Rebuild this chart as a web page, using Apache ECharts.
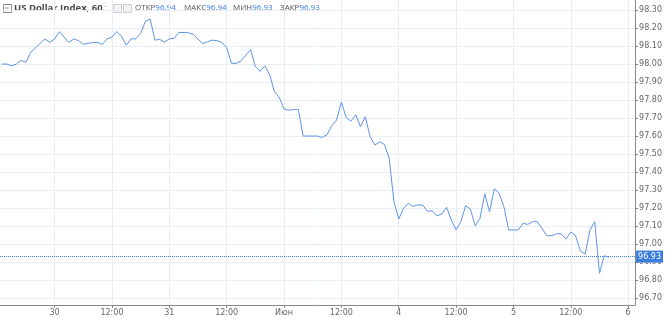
<!DOCTYPE html>
<html>
<head>
<meta charset="utf-8">
<script src="https://cdn.jsdelivr.net/npm/echarts@6/dist/echarts.min.js"></script>
<style>html,body{margin:0;padding:0;background:#fff}#c{width:665px;height:318px}</style>
</head>
<body>
<div id="c"></div>
<script>
// hours relative to 30 May 00:00 (trading-hour index)
var hours = [-11,-10,-9,-8,-7,-6,-5,-3,-2,-1,0,1,2,3,4,5,6,7,8,9,10,11,12,13,14,15,16,17,18,19,20,21,22,23,24,25,26,28,29,31,32,33,34,35,36,37,38,39,41,42,43,44,45,46,47,48,49,50,51,52,55,56,57,58,59,60,61,62,63,64,65,66,67,68,69,70,71,72,73,74,75,76,77,78,79,80,81,82,83,84,85,86,87,88,89,90,91,92,93,94,95,97,98,99,100,101,103,104,105,106,107,108,109,110,111,112,113,114,115,116];
var prices = [98.00,98.00,97.99,98.00,98.02,98.01,98.065,98.115,98.14,98.12,98.14,98.18,98.15,98.12,98.14,98.13,98.11,98.115,98.12,98.12,98.11,98.14,98.15,98.18,98.155,98.105,98.14,98.14,98.17,98.237,98.25,98.133,98.137,98.122,98.14,98.143,98.176,98.174,98.165,98.113,98.124,98.133,98.13,98.12,98.093,98.004,98.004,98.018,98.08,97.985,97.96,97.99,97.94,97.846,97.815,97.75,97.743,97.748,97.748,97.60,97.60,97.592,97.608,97.658,97.689,97.789,97.703,97.683,97.718,97.652,97.707,97.598,97.55,97.568,97.553,97.476,97.235,97.139,97.198,97.226,97.209,97.217,97.217,97.181,97.185,97.156,97.167,97.204,97.133,97.078,97.124,97.213,97.194,97.10,97.143,97.278,97.179,97.306,97.282,97.207,97.078,97.078,97.115,97.109,97.124,97.124,97.046,97.046,97.057,97.056,97.028,97.067,97.046,96.961,96.944,97.078,97.124,96.837,96.935,96.926];
var xTickHours = [0,12,24,36,48,60,72,84,96,108,120];
var xTickLabels = ['30','12:00','31','12:00','Июн','12:00','4','12:00','5','12:00','6'];
var yTicks = [96.7,96.8,96.9,97.0,97.1,97.2,97.3,97.4,97.5,97.6,97.7,97.8,97.9,98.0,98.1,98.2,98.3];
var title = 'US Dollar Index, 60';
var ohlcNames = ['ОТКР','МАКС','МИН','ЗАКР'];
var ohlcValues = ['96.94','96.94','96.93','96.93'];
var lastClose = 96.93;

var data = hours.map(function(h,i){return [h, prices[i]];});
var chart = echarts.init(document.getElementById('c'), null, {renderer:'canvas'});

var graphics = [
  {type:'rect', left:3, top:4, shape:{width:8,height:8}, style:{fill:'#fff', stroke:'#888', lineWidth:1}},
  {type:'rect', left:5, top:7.5, shape:{width:4,height:1}, style:{fill:'#888'}},
  {type:'text', left:14, top:3, style:{text:title, fontSize:9.5, fontWeight:'bold', fontFamily:'Open Sans, DejaVu Sans, sans-serif', fill:'#4a4a4a'}},
  {type:'text', left:104, top:2, style:{text:'-', fontSize:9, fill:'#bbb'}},
  {type:'rect', left:113, top:4, shape:{width:8,height:8}, style:{fill:'#f2f2f2', stroke:'#ccc', lineWidth:1}},
  {type:'rect', left:123, top:4, shape:{width:8,height:8}, style:{fill:'#f2f2f2', stroke:'#ccc', lineWidth:1}}
];
var xs = [135, 184, 233, 280];
ohlcNames.forEach(function(n,i){
  graphics.push({type:'text', left:xs[i], top:4, style:{
    text:'{a|'+n+'}{b|'+ohlcValues[i]+'}',
    rich:{a:{fontSize:8,fill:'#555',fontFamily:'Open Sans, DejaVu Sans, sans-serif'},
          b:{fontSize:8,fill:'#3b7ddd',fontFamily:'Open Sans, DejaVu Sans, sans-serif'}}}});
});

chart.setOption({
  animation:false,
  backgroundColor:'#fff',
  grid:{left:0, right:25, top:0, bottom:13, containLabel:false},
  xAxis:{
    type:'value', min:-11.42, max:121.45,
    axisLine:{show:true, onZero:false, lineStyle:{color:'#8a8a8a', width:1}},
    axisTick:{show:true, length:3, customValues:xTickHours, lineStyle:{color:'#8a8a8a'}},
    axisLabel:{customValues:xTickHours, fontSize:8, color:'#666', margin:4, fontFamily:'DejaVu Sans, sans-serif',
      formatter:function(v){var i=xTickHours.indexOf(v);return i>=0?xTickLabels[i]:'';}},
    splitLine:{show:true, lineStyle:{color:'#e8eef7', width:1}}
  },
  yAxis:{
    type:'value', position:'right', min:96.661, max:98.356, scale:true,
    axisLine:{show:true, onZero:false, lineStyle:{color:'#8a8a8a', width:1}},
    axisTick:{show:true, length:3, customValues:yTicks, lineStyle:{color:'#8a8a8a'}},
    axisLabel:{customValues:yTicks, fontSize:8, color:'#666', margin:4, fontFamily:'DejaVu Sans, sans-serif',
      formatter:function(v){return v.toFixed(2);}},
    splitLine:{show:true, lineStyle:{color:'#e8eef7', width:1}}
  },
  graphic:graphics,
  series:[{
    type:'line', data:data, showSymbol:false, symbol:'none',
    lineStyle:{color:'#5e93e6', width:1},
    markLine:{
      silent:true, symbol:'none',
      lineStyle:{color:'#3b7ddd', type:'dotted', width:1},
      label:{show:true, position:'end', distance:1, formatter:function(){return lastClose.toFixed(2);},
        backgroundColor:'#3b7ddd', color:'#fff', fontSize:8, padding:[2,2,2,2], fontFamily:'DejaVu Sans, sans-serif'},
      data:[{yAxis:lastClose}]
    }
  }]
});
</script>
</body>
</html>
